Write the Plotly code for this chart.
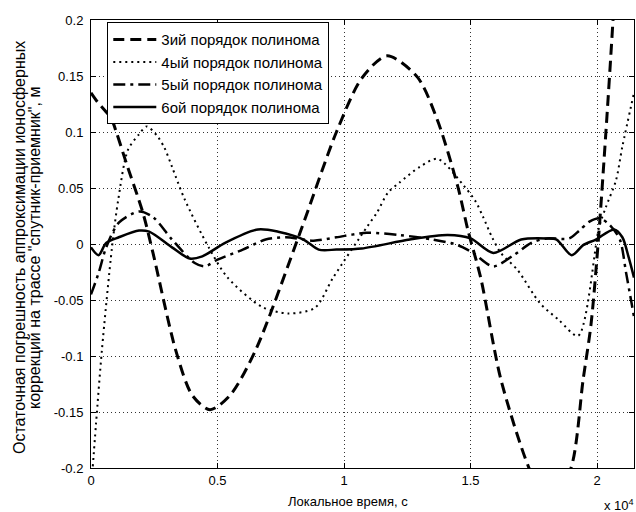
import plotly.graph_objects as go

# ---- data (x in seconds, y in metres) ----
order3_x = [0, 250, 800, 1000, 1400, 2050, 2450, 3350, 4000, 4700, 5500, 6500, 8260, 9700,
            10700, 11700, 12900, 13700, 14500, 14900, 15400, 16200, 17310, 18100, 18970,
            19450, 19760, 20040, 20350, 20630, 21000]
order3_y = [0.135, 0.127, 0.112, 0.1, 0.072, 0.028, -0.008, -0.095, -0.135, -0.148, -0.135,
            -0.095, 0.01, 0.1, 0.148, 0.168, 0.149, 0.11, 0.051, 0.012, -0.03, -0.121, -0.2,
            -0.235, -0.2, -0.121, -0.072, 0.0, 0.1, 0.2, 0.35]

order4_x = [0, 200, 430, 830, 1080, 1460, 1900, 2200, 2600, 2900, 3200, 3700, 4650, 5400,
            6750, 7800, 8850, 9570, 10900, 11300, 11740, 12200, 13000, 13700, 14700, 15200,
            15500, 15850, 16200, 16850, 17750, 18500, 19250, 20080, 20350, 20750, 21000, 21460]
order4_y = [-0.22, -0.16, -0.095, -0.003, 0.04, 0.084, 0.098, 0.105, 0.097, 0.086, 0.069,
            0.04, -0.003, -0.03, -0.056, -0.062, -0.057, -0.03, 0.015, 0.028, 0.046, 0.055,
            0.069, 0.076, 0.053, 0.038, 0.024, 0.006, -0.008, -0.023, -0.053, -0.068, -0.082,
            0.015, 0.033, 0.057, 0.087, 0.135]

order5_x = [0, 300, 600, 1100, 1900, 2450, 3200, 4100, 4500, 5000, 6000, 6900, 7700, 8800,
            9700, 10900, 12200, 13500, 14500, 15100, 15900, 16700, 17400, 18000, 18900,
            19300, 19700, 20100, 20500, 20900, 21150, 21460]
order5_y = [-0.045, -0.026, -0.003, 0.019, 0.029, 0.024, 0.004, -0.017, -0.02, -0.014,
            -0.005, 0.004, 0.006, 0.003, 0.006, 0.01, 0.008, 0.004, -0.001, -0.008, -0.02,
            -0.01, 0.001, 0.005, 0.005, 0.012, 0.02, 0.023, 0.017, 0.004, -0.026, -0.065]

order6_x = [0, 300, 600, 1100, 1900, 2300, 3200, 3900, 4400, 5300, 6600, 7400, 8400, 9000,
            9700, 10700, 12600, 14100, 15000, 15900, 17000, 18000, 18400, 19000, 19450,
            19950, 20670, 21000, 21250, 21460]
order6_y = [-0.003, -0.01, 0.001, 0.006, 0.012, 0.011, -0.003, -0.013, -0.011, 0.001, 0.013,
            0.011, 0.004, -0.005, -0.005, -0.004, 0.004, 0.008, 0.005, -0.008, 0.004, 0.005,
            0.004, -0.01, -0.001, 0.004, 0.013, 0.006, -0.012, -0.03]

names = ["3ий порядок полинома", "4ый порядок полинома",
         "5ый порядок полинома", "6ой порядок полинома"]

x_tickvals = [0, 5000, 10000, 15000, 20000]
x_ticktext = ["0", "0.5", "1", "1.5", "2"]
y_tickvals = [-0.2, -0.15, -0.1, -0.05, 0, 0.05, 0.1, 0.15, 0.2]
y_ticktext = ["-0.2", "-0.15", "-0.1", "-0.05", "0", "0.05", "0.1", "0.15", "0.2"]

x_title = "Локальное время, с"
y_title_1 = "Остаточная погрешность аппроксимации ионосферных"
y_title_2 = "коррекций на трассе \"спутник-приемник\", м"

FONT = "Liberation Sans, Arial, sans-serif"

fig = go.Figure()
styles = [
    dict(width=3, dash="11px,6px"),
    dict(width=2, dash="2px,4px"),
    dict(width=2.5, dash="12px,5px,3px,5px"),
    dict(width=2.5, dash="solid"),
]
for xs, ys, nm, st in zip([order3_x, order4_x, order5_x, order6_x],
                          [order3_y, order4_y, order5_y, order6_y], names, styles):
    fig.add_trace(go.Scatter(x=xs, y=ys, mode="lines", name=nm,
                             line=dict(color="black", shape="spline", smoothing=0.8, **st)))

axis_common = dict(showline=True, linecolor="black", linewidth=1, mirror="ticks",
                   ticks="inside", ticklen=5, tickcolor="black", showgrid=True,
                   gridcolor="#333", griddash="1px,3px", gridwidth=1, zeroline=False,
                   tickfont=dict(family=FONT, size=13, color="black"))

fig.update_layout(
    width=636, height=512,
    margin=dict(l=91, r=2, t=20, b=44),
    paper_bgcolor="white", plot_bgcolor="white",
    font=dict(family=FONT, size=13, color="black"),
    xaxis=dict(range=[0, 21460], tickvals=x_tickvals, ticktext=x_ticktext, **axis_common),
    yaxis=dict(range=[-0.2, 0.2], tickvals=y_tickvals, ticktext=y_ticktext,
               ticklabelstandoff=4, **axis_common),
    legend=dict(x=0.03, y=0.995, xanchor="left", yanchor="top", bgcolor="white",
                bordercolor="black", borderwidth=1, itemwidth=43,
                font=dict(family=FONT, size=15, color="black"), tracegroupgap=0),
    showlegend=True,
)

fig.add_annotation(text=x_title, xref="paper", yref="paper", x=0.473, y=0,
                   xanchor="center", yanchor="middle", yshift=-33, showarrow=False,
                   font=dict(family=FONT, size=13, color="black"))
fig.add_annotation(text="x 10<sup>4</sup>", xref="paper", yref="paper", x=1, y=0,
                   xanchor="right", yanchor="top", xshift=2, yshift=-27, showarrow=False,
                   font=dict(family=FONT, size=13, color="black"))
fig.add_annotation(text=y_title_1, xref="paper", yref="paper", x=(19 - 91) / 543, y=0.491,
                   xanchor="center", yanchor="middle", textangle=-90, showarrow=False,
                   font=dict(family=FONT, size=16, color="black"))
fig.add_annotation(text=y_title_2, xref="paper", yref="paper", x=(34 - 91) / 543, y=0.491,
                   xanchor="center", yanchor="middle", textangle=-90, showarrow=False,
                   font=dict(family=FONT, size=16, color="black"))

fig.write_html("out.html", config={"displayModeBar": False},
               post_script="document.body.style.margin='0';document.body.style.padding='0';")
